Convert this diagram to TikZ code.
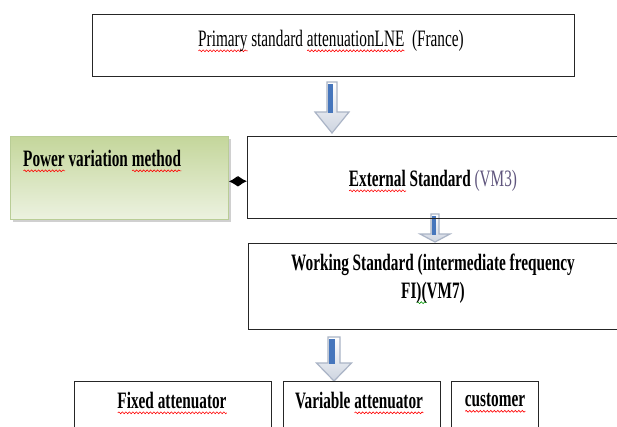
\documentclass[tikz,border=0pt]{standalone}
\usepackage{fontspec}
\setmainfont{Liberation Serif}[FakeStretch=0.65]
\usetikzlibrary{arrows.meta,shadows,decorations.pathmorphing}
\definecolor{arrowgray}{RGB}{205,212,224}
\definecolor{arrowedge}{RGB}{170,180,198}
\definecolor{arrowblue}{RGB}{70,118,188}
\definecolor{vmcol}{RGB}{95,85,125}
\definecolor{gtop}{RGB}{196,214,155}
\definecolor{gbot}{RGB}{236,242,224}
\definecolor{gedge}{RGB}{185,205,150}
\newsavebox\sqbox
\newcommand\sq[2][red]{\sbox\sqbox{#2}\rlap{\tikz[baseline={(0,4.5pt)},x=1pt,y=1pt]\draw[#1,line width=0.6pt,decorate,decoration={snake,amplitude=0.9pt,segment length=3.5pt}] (0,0) -- (\the\wd\sqbox,0);}\usebox\sqbox}
\newcommand\blockarrow[6]{%
  \path[top color=white, bottom color=arrowgray, draw=arrowedge, line width=1.2pt, line join=miter]
    (#1-#5,#2) -- (#1+#5,#2) -- (#1+#5,#3) -- (#1+#6,#3) -- (#1,#4) -- (#1-#6,#3) -- (#1-#5,#3) -- cycle;
  \fill[arrowblue] (#1-#5+1.2,#2+2) rectangle (#1+0.5,#3+1);
}
\begin{document}
\begin{tikzpicture}[x=1pt,y=-1pt,
  box/.style={draw=black!85, line width=1.3pt, inner sep=0pt, anchor=north west},
  txt/.style={inner sep=0pt, font=\fontsize{23.5}{27.5}\selectfont\bfseries},
  conn/.style={{Latex[length=9pt,width=11pt]}-{Latex[length=9pt,width=11pt]}, line width=1.5pt}]
\useasboundingbox (0,0) rectangle (617,426);
\clip (0,0) rectangle (617,426);
\fill[white] (0,0) rectangle (617,426);
% arrows (under boxes)
\blockarrow{332}{82}{112}{133}{5}{17}
\blockarrow{435}{214}{234}{242}{4}{15}
\blockarrow{334}{337}{363}{381}{6}{17.5}
% boxes
\node[box, minimum width=482pt, minimum height=62pt] (top) at (92,14) {};
\node[anchor=north west, inner sep=0pt, minimum width=218pt, minimum height=83pt,
  top color=gtop, bottom color=gbot, draw=gedge, line width=0.8pt,
  drop shadow={shadow xshift=3pt, shadow yshift=-3pt, opacity=0.3, fill=black!60}] (pv) at (10,136) {};
\node[box, minimum width=380pt, minimum height=82pt] (ext) at (247,136) {};
\node[box, minimum width=380pt, minimum height=86pt] (work) at (248,243) {};
\node[box, minimum width=197pt, minimum height=60pt] (fix) at (74,381) {};
\node[box, minimum width=157pt, minimum height=60pt] (var) at (283,381) {};
\node[box, minimum width=87pt, minimum height=60pt] (cust) at (451,381) {};
% connector
\draw[conn] ([yshift=-3.5pt]pv.east) -- ([yshift=-3.5pt]ext.west);
% texts
\node[txt, font=\fontsize{23.5}{27.5}\selectfont] (toptxt) at (331,41) {\sq{Primary} standard \sq{attenuationLNE}\ \ (France)};
\node[txt, anchor=west] (pvtxt) at (23,161) {\sq{Power} variation \sq{method}};
\node[txt] (exttxt) at (433,181) {\sq{External} Standard {\mdseries\color{vmcol}(VM3)}};
\node[txt, align=center] (worktxt) at (433,279) {Working Standard (intermediate frequency\\FI\sq[green!60!black]{)(}VM7)};
\node[txt] (fixtxt) at (172,403) {\sq{Fixed attenuator}};
\node[txt] (vartxt) at (359,403) {Variable \sq{attenuator}};
\node[txt] (custtxt) at (495,403) {\sq{customer}};
\end{tikzpicture}
\end{document}
